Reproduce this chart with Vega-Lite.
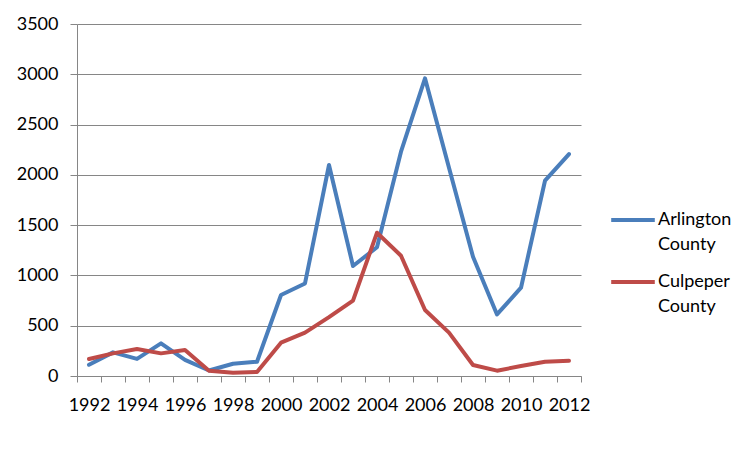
{
  "$schema": "https://vega.github.io/schema/vega-lite/v6.json",
  "width": 504,
  "height": 352,
  "autosize": {"type": "none"},
  "padding": {"left": 77, "top": 24, "right": 171, "bottom": 76},
  "background": "white",
  "config": {
    "font": "Lato",
    "view": {"stroke": null},
    "axis": {"labelFont": "Lato", "labelFontSize": 18, "labelColor": "#000000", "domainColor": "#868686", "tickColor": "#868686", "gridColor": "#868686", "domainWidth": 1, "tickWidth": 1, "gridWidth": 1}
  },
  "data": {
    "values": [
      {"year": "1992", "county": "Arlington County", "value": 112},
      {"year": "1993", "county": "Arlington County", "value": 235},
      {"year": "1994", "county": "Arlington County", "value": 170},
      {"year": "1995", "county": "Arlington County", "value": 325},
      {"year": "1996", "county": "Arlington County", "value": 160},
      {"year": "1997", "county": "Arlington County", "value": 55},
      {"year": "1998", "county": "Arlington County", "value": 122},
      {"year": "1999", "county": "Arlington County", "value": 142},
      {"year": "2000", "county": "Arlington County", "value": 805},
      {"year": "2001", "county": "Arlington County", "value": 920},
      {"year": "2002", "county": "Arlington County", "value": 2098},
      {"year": "2003", "county": "Arlington County", "value": 1094},
      {"year": "2004", "county": "Arlington County", "value": 1280},
      {"year": "2005", "county": "Arlington County", "value": 2230},
      {"year": "2006", "county": "Arlington County", "value": 2960},
      {"year": "2007", "county": "Arlington County", "value": 2070},
      {"year": "2008", "county": "Arlington County", "value": 1186},
      {"year": "2009", "county": "Arlington County", "value": 612},
      {"year": "2010", "county": "Arlington County", "value": 878},
      {"year": "2011", "county": "Arlington County", "value": 1942},
      {"year": "2012", "county": "Arlington County", "value": 2207},
      {"year": "1992", "county": "Culpeper County", "value": 169},
      {"year": "1993", "county": "Culpeper County", "value": 225},
      {"year": "1994", "county": "Culpeper County", "value": 268},
      {"year": "1995", "county": "Culpeper County", "value": 225},
      {"year": "1996", "county": "Culpeper County", "value": 258},
      {"year": "1997", "county": "Culpeper County", "value": 53},
      {"year": "1998", "county": "Culpeper County", "value": 33},
      {"year": "1999", "county": "Culpeper County", "value": 40},
      {"year": "2000", "county": "Culpeper County", "value": 331},
      {"year": "2001", "county": "Culpeper County", "value": 431},
      {"year": "2002", "county": "Culpeper County", "value": 585},
      {"year": "2003", "county": "Culpeper County", "value": 749},
      {"year": "2004", "county": "Culpeper County", "value": 1425},
      {"year": "2005", "county": "Culpeper County", "value": 1196},
      {"year": "2006", "county": "Culpeper County", "value": 656},
      {"year": "2007", "county": "Culpeper County", "value": 431},
      {"year": "2008", "county": "Culpeper County", "value": 109},
      {"year": "2009", "county": "Culpeper County", "value": 53},
      {"year": "2010", "county": "Culpeper County", "value": 99},
      {"year": "2011", "county": "Culpeper County", "value": 142},
      {"year": "2012", "county": "Culpeper County", "value": 152}
    ]
  },
  "mark": {"type": "line", "strokeWidth": 4, "strokeJoin": "round", "strokeCap": "round"},
  "encoding": {
    "x": {
      "field": "year",
      "type": "ordinal",
      "bandPosition": 0.5,
      "scale": {"type": "band", "paddingInner": 0, "paddingOuter": 0},
      "axis": {
        "title": null,
        "labelAngle": 0,
        "tickBand": "extent",
        "tickSize": 6,
        "labelPadding": 14,
        "labelOverlap": false,
        "labelExpr": "toNumber(datum.value) % 2 == 0 ? datum.label : ''"
      }
    },
    "y": {
      "field": "value",
      "type": "quantitative",
      "scale": {"domain": [0, 3500], "nice": false},
      "axis": {
        "title": null,
        "format": "d",
        "values": [0, 500, 1000, 1500, 2000, 2500, 3000, 3500],
        "tickSize": 7,
        "labelPadding": 12
      }
    },
    "color": {
      "field": "county",
      "type": "nominal",
      "scale": {"domain": ["Arlington County", "Culpeper County"], "range": ["#4A7EBB", "#BE4B48"]},
      "legend": {
        "title": null,
        "orient": "none",
        "legendX": 532,
        "legendY": 172,
        "symbolType": "stroke",
        "symbolSize": 1900,
        "symbolStrokeWidth": 4,
        "labelFont": "Lato",
        "labelFontSize": 18,
        "labelColor": "#000000",
        "labelLimit": 200,
        "labelOffset": 1,
        "labelExpr": "split(datum.label, ' ')",
        "rowPadding": 4,
        "encode": {
          "labels": {"update": {"lineHeight": {"value": 25}, "baseline": {"value": "middle"}}}
        }
      }
    }
  }
}
